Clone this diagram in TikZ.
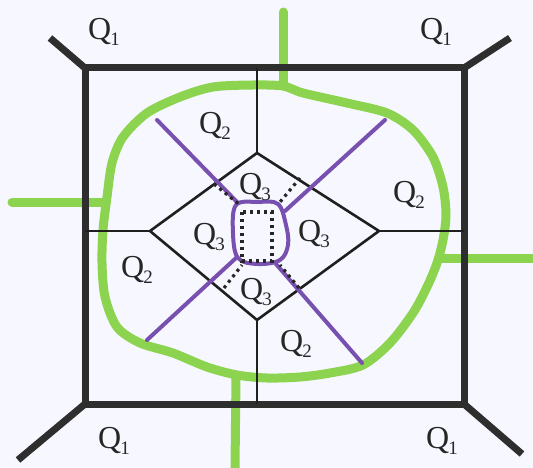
\documentclass[tikz,border=0pt]{standalone}
\usepackage{fontspec}
\setmainfont{Liberation Serif}
\newcommand\qlab[1]{Q\kern-0.02em\raisebox{-0.4ex}{\fontsize{19}{19}\selectfont #1}}
\begin{document}
\begin{tikzpicture}[x=1pt,y=-1pt,
  thickb/.style={draw=black!82,line width=7pt},
  thinb/.style={draw=black!88,line width=2.6pt},
  greenl/.style={draw={rgb,255:red,140;green,212;blue,80},line width=9pt,line cap=round,line join=round},
  purpl/.style={draw={rgb,255:red,120;green,80;blue,175},line width=4pt,line cap=round},
  dotl/.style={draw=black!85,line width=3.2pt,dash pattern=on 3pt off 4pt},
  lab/.style={font=\fontsize{32}{32}\selectfont,inner sep=0pt,text=black!85}]
\fill[white!97!blue] (0,0) rectangle (533,468);
\useasboundingbox (0,0) rectangle (533,468);
% outer square corners
\coordinate (A) at (85,68); \coordinate (B) at (464,68);
\coordinate (C) at (464,404); \coordinate (D) at (85,404);
\coordinate (A1) at (50,38); \coordinate (B1) at (510,38);
\coordinate (C1) at (522,454); \coordinate (D1) at (18,460);
% diamond
\coordinate (T) at (257,153); \coordinate (L) at (150,231);
\coordinate (R) at (379,231); \coordinate (Bt) at (257,320);
\coordinate (Tt) at (257,68); \coordinate (Lt) at (85,231);
\coordinate (Rt) at (464,231); \coordinate (Bb) at (257,404);
% green
\draw[greenl] plot[smooth cycle,tension=0.5] coordinates {(253,85) (213,87) (180,97) (147,113) (123,137) (112,163) (107,197) (103,230) (102,263) (105,297) (117,327) (140,343) (173,353) (207,367) (237,375) (267,378) (300,377) (330,373) (363,365) (390,343) (413,313) (427,287) (437,263) (443,240) (446,215) (443,187) (433,157) (413,130) (387,113) (347,103) (303,93) (283,86)};
\coordinate (G1) at (283,12); \coordinate (G1e) at (283,86);
\coordinate (G2) at (12,202); \coordinate (G2e) at (106,202);
\coordinate (G3) at (533,258); \coordinate (G3e) at (440,258);
\coordinate (G4) at (235,468); \coordinate (G4e) at (236,376);
\draw[greenl] (G1) -- (G1e);
\draw[greenl] (G2) -- (G2e);
\draw[greenl] (G3) -- (G3e);
\draw[greenl] (G4) -- (G4e);
% black structure
\draw[thickb,line join=round] (A) -- (B) -- (C) -- (D) -- cycle;
\draw[thickb] (A) -- (A1); \draw[thickb] (B) -- (B1);
\draw[thickb] (C) -- (C1); \draw[thickb] (D) -- (D1);
\draw[thinb,line join=round] (T) -- (R) -- (Bt) -- (L) -- cycle;
\draw[thinb] (T) -- (Tt); \draw[thinb] (L) -- (Lt);
\draw[thinb] (R) -- (Rt); \draw[thinb] (Bt) -- (Bb);
% purple
\draw[purpl] (157,120) -- (238,203);
\draw[purpl] (385,120) -- (285,211);
\draw[purpl] (147,340) -- (236,258);
\draw[purpl] (362,363) -- (276,264);
\draw[purpl] plot[smooth cycle,tension=0.6] coordinates {(236,205) (258,202) (278,204) (286,225) (288,245) (280,260) (258,264) (238,258) (233,233)};
% dotted
\draw[dotl] (242,212) rectangle (272,261);
\draw[dotl] (214,184) -- (240,205);
\draw[dotl] (300,178) -- (280,202);
\draw[dotl] (299,288) -- (280,265);
\draw[dotl] (224,288) -- (242,265);
% labels
\node[lab] (q1a) at (104,32) {\qlab{1}};
\node[lab] (q1b) at (436,32) {\qlab{1}};
\node[lab] (q1c) at (114,441) {\qlab{1}};
\node[lab] (q1d) at (442,441) {\qlab{1}};
\node[lab] (q2a) at (215,126) {\qlab{2}};
\node[lab] (q2b) at (409,195) {\qlab{2}};
\node[lab] (q2c) at (137,270) {\qlab{2}};
\node[lab] (q2d) at (296,344) {\qlab{2}};
\node[lab] (q3a) at (255,187) {\qlab{3}};
\node[lab] (q3b) at (209,237) {\qlab{3}};
\node[lab] (q3c) at (314,234) {\qlab{3}};
\node[lab] (q3d) at (256,292) {\qlab{3}};
\end{tikzpicture}
\end{document}
